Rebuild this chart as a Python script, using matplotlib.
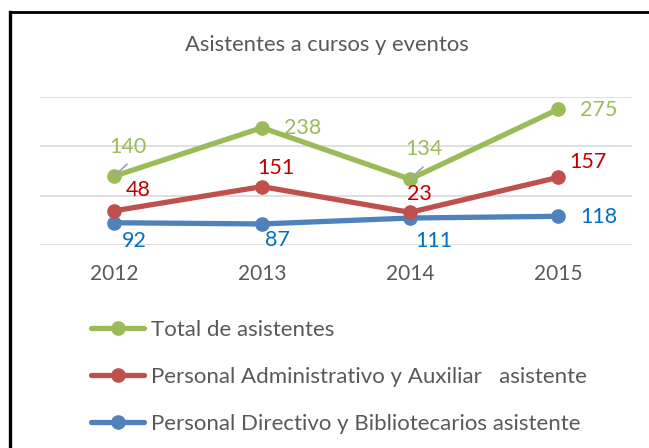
import matplotlib
matplotlib.use("Agg")
import matplotlib.pyplot as plt
from matplotlib.lines import Line2D

plt.rcParams['font.family'] = ['Lato', 'DejaVu Sans']

# data
years = ["2012", "2013", "2014", "2015"]
directivo = [92, 87, 111, 118]
administrativo = [48, 151, 23, 157]
total = [140, 238, 134, 275]

series_names = ["Total de asistentes",
                "Personal Administrativo y Auxiliar   asistente",
                "Personal Directivo y Bibliotecarios asistente"]

line_colors = ["#9BBB59", "#C0504D", "#4F81BD"]
label_colors = ["#9BBB59", "#C00000", "#0070C0"]
gray = "#595959"

# stacked line chart (as in the source workbook)
x = list(range(len(years)))
s_blue = directivo
s_red = [a + b for a, b in zip(directivo, administrativo)]
s_green = [a + b for a, b in zip(s_red, total)]

fig = plt.figure(figsize=(6.49, 4.48), dpi=100)
ax = fig.add_axes([40 / 649, 1 - 245.5 / 448, 592 / 649, 148.5 / 448])

ax.set_xlim(-0.5, 3.5)
ax.set_ylim(0, 600)
ax.set_yticks([0, 200, 400, 600])
ax.set_yticklabels([])
ax.grid(axis='y', color='#D9D9D9', lw=1.2)
ax.set_axisbelow(True)
for sp in ax.spines.values():
    sp.set_visible(False)
ax.tick_params(axis='both', length=0)
ax.set_xticks(x)
ax.set_xticklabels(years, fontsize=15, color=gray)
ax.tick_params(axis='x', pad=13)

stack = [s_green, s_red, s_blue]
values = [total, administrativo, directivo]
offsets = [
    [(14, 29), (41, 0), (14, 30), (41, -1)],
    [(24, 21), (14, 19), (9, 18), (30, 15)],
    [(20, -18), (15, -16), (24, -23), (41, -1)],
]
leaders = [[True, False, True, False], [False] * 4, [False] * 4]

# draw bottom series first so green stays on top
for i in [2, 1, 0]:
    ax.plot(x, stack[i], color=line_colors[i], lw=3.8, marker='o', ms=9.5,
            solid_capstyle='round', zorder=3 + (2 - i))

for i in range(3):
    for j in range(len(x)):
        if leaders[i][j]:
            # short gray leader line from the point toward its label
            ax.annotate("", (x[j], stack[i][j]), xytext=(13, 12),
                        textcoords='offset pixels', zorder=9,
                        arrowprops=dict(arrowstyle='-', color='#A6A6A6',
                                        lw=1.3, shrinkA=0, shrinkB=0))
        ax.annotate(str(values[i][j]), (x[j], stack[i][j]),
                    xytext=offsets[i][j], textcoords='offset pixels',
                    ha='center', va='center', fontsize=15.5,
                    color=label_colors[i], zorder=10)

fig.text(327 / 649, 1 - 45 / 448, "Asistentes a cursos y eventos",
         ha='center', va='center', fontsize=15.8, color=gray)

handles = [Line2D([], [], color=c, lw=3.8, marker='o', ms=9.5,
                  solid_capstyle='round') for c in line_colors]
leg = fig.legend(handles, series_names, loc='upper left',
                 bbox_to_anchor=(91 / 649, 1 - 320 / 448), frameon=False,
                 fontsize=16, handlelength=2.4, handletextpad=0.3,
                 labelspacing=1.22, borderaxespad=0, borderpad=0)
for t in leg.get_texts():
    t.set_color(gray)

# frame lines
fig.add_artist(Line2D([10 / 649, 1], [1 - 12 / 448, 1 - 12 / 448],
                      color='black', lw=2, transform=fig.transFigure))
fig.add_artist(Line2D([10 / 649, 10 / 649], [0, 1 - 12 / 448],
                      color='black', lw=2.4, transform=fig.transFigure))

fig.savefig("out.png", dpi=100)
